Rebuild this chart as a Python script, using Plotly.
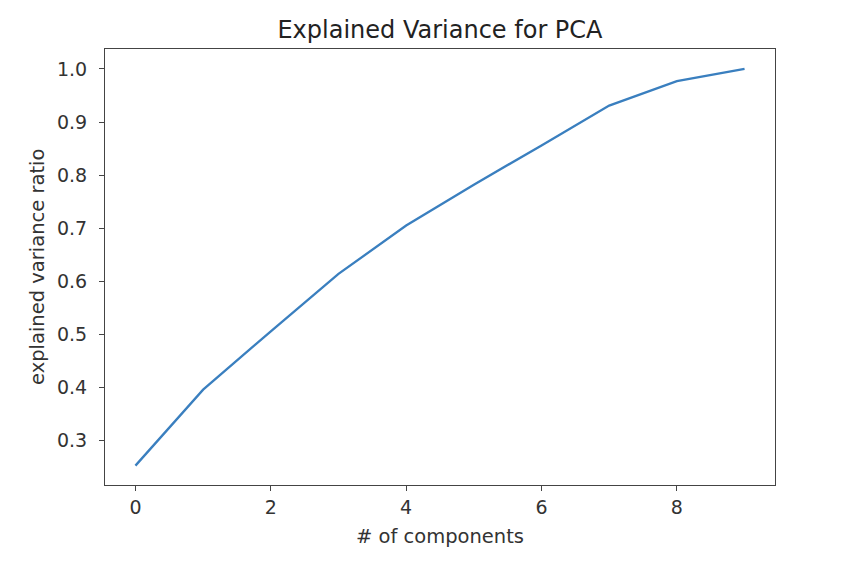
import plotly.graph_objects as go

# cumulative explained variance ratio per component
components = [0, 1, 2, 3, 4, 5, 6, 7, 8, 9]
cum_variance = [0.253, 0.396, 0.506, 0.614, 0.705, 0.782, 0.856, 0.931, 0.977, 1.0]

x_ticks = [0, 2, 4, 6, 8]
y_ticks = [0.3, 0.4, 0.5, 0.6, 0.7, 0.8, 0.9, 1.0]

fig = go.Figure()
fig.add_trace(go.Scatter(x=components, y=cum_variance, mode="lines",
                         line=dict(color="#3a7fbf", width=2.3)))

axis_style = dict(showline=True, linecolor="#444", linewidth=1.2, mirror=True,
                  ticks="outside", ticklen=5, tickcolor="#444", showgrid=False,
                  zeroline=False, tickfont=dict(size=19, color="#333"))

fig.update_xaxes(range=[-0.45, 9.45], tickvals=x_ticks, ticklabelstandoff=0, **axis_style)
fig.update_yaxes(range=[0.2165, 1.0375], tickvals=y_ticks, tickformat=".1f",
                 ticklabelstandoff=8, **axis_style)

fig.add_annotation(text="# of components", xref="paper", yref="paper",
                   x=0.5, y=-0.119, xanchor="center", yanchor="middle",
                   showarrow=False, font=dict(size=19.5, color="#333"))
fig.add_annotation(text="explained variance ratio", xref="paper", yref="paper",
                   x=-0.1015, y=0.5, xanchor="center", yanchor="middle", textangle=-90,
                   showarrow=False, font=dict(size=19.5, color="#333"))

fig.update_layout(
    width=858, height=580,
    margin=dict(l=97, r=91, t=41, b=103),
    paper_bgcolor="white", plot_bgcolor="white",
    font=dict(family="DejaVu Sans", color="#333"),
    title=dict(text="Explained Variance for PCA", x=0.5035, xanchor="center",
               y=0.962, yanchor="middle", font=dict(size=24, color="#222")),
    showlegend=False,
)

fig.write_html("out.html")
